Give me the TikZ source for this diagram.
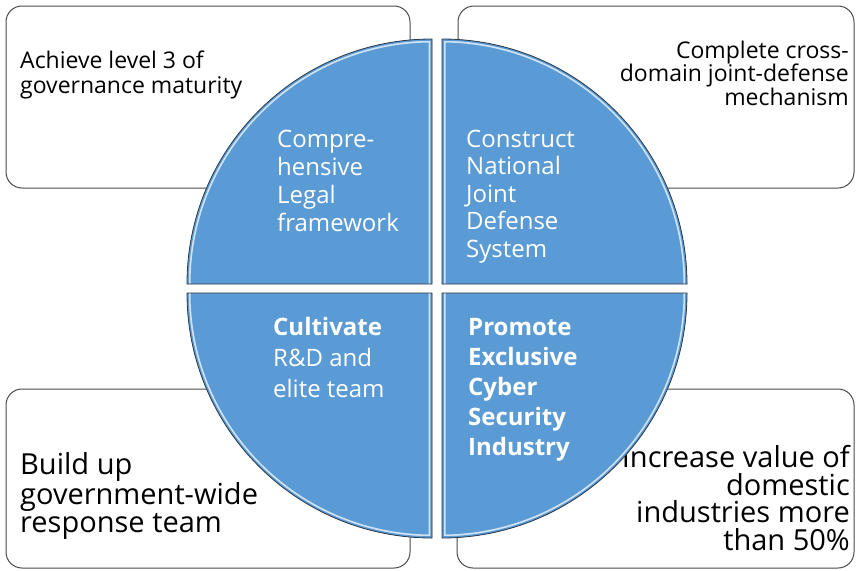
\documentclass[tikz,border=0pt]{standalone}
\usepackage{fontspec}
\setmainfont{Open Sans}

\definecolor{pieblue}{HTML}{5B9BD5}
\definecolor{pieshine}{HTML}{CFE3F5}
\definecolor{pieedge}{HTML}{2E3A48}
\definecolor{boxline}{HTML}{4A4A4A}

\tikzset{
    goalbox/.style={draw=boxline, line width=1pt, rounded corners=16pt, fill=white},
    goaltext/.style={inner sep=0pt, text=black, font=\fontsize{23}{24.5}\selectfont},
    bigtext/.style={inner sep=0pt, text=black, font=\fontsize{29}{27.5}\selectfont},
    pietext/.style={inner sep=0pt, align=left, anchor=base west, text=white, font=\fontsize{24}{28}\selectfont},
}

\begin{document}
\begin{tikzpicture}[x=1pt, y=1pt]
        \useasboundingbox (0, 0) rectangle (856, -570);

        % goal boxes in the corners
        \draw[goalbox] (6, -6) rectangle (410, -188);
        \draw[goalbox] (458, -6) rectangle (854, -188);
        \draw[goalbox] (6, -389) rectangle (410, -568);
        \draw[goalbox] (457, -389) rectangle (854, -568);

        % anchors sit on the baseline of the last line
        \node[goaltext, align=left, anchor=base west] (govern) at (20, -93)
            {Achieve level 3 of\\governance maturity};
        \node[goaltext, align=right, anchor=base east, font=\fontsize{23}{23.5}\selectfont] (crossdomain) at (849, -105)
            {Complete cross-\\domain joint-defense\\mechanism};
        \node[bigtext, align=left, anchor=base west] (response) at (20, -532)
            {Build up\\government-wide\\response team};
        \node[bigtext, align=right, anchor=base east] (industry) at (850, -550)
            {Increase value of\\domestic\\industries more\\than 50\%};

        % the four quarters of the circle
        \foreach \cx/\cy/\v/\h in {432/-284/90/180, 442/-284/90/0, 442/-293/-90/0, 432/-293/-90/-180} {
            \fill[pieblue] (\cx, \cy) -- ++(\v:245) arc (\v:\h:245) -- cycle;
            \begin{scope}
                \clip (\cx, \cy) -- ++(\v:245) arc (\v:\h:245) -- cycle;
                \draw[pieshine, line width=7pt] (\cx, \cy) -- ++(\v:245) arc (\v:\h:245);
                \draw[pieblue, line width=3.5pt] (\cx, \cy) -- ++(\v:245) arc (\v:\h:245);
            \end{scope}
            \draw[pieedge, line width=0.8pt] (\cx, \cy) -- ++(\v:245) arc (\v:\h:245) -- cycle;
        }

        \node[pietext] (legal) at (277, -231) {Compre-\\hensive\\Legal\\framework};
        \node[pietext, font=\fontsize{24}{27.5}\selectfont] (defense) at (466, -257)
            {Construct\\National\\Joint\\Defense\\System};
        \node[pietext, font=\fontsize{24}{31}\selectfont] (elite) at (273, -397)
            {\textbf{Cultivate}\\R\&D and\\elite team};
        \node[pietext, font=\fontsize{24}{30}\selectfont\bfseries] (cyber) at (468, -455)
            {Promote\\Exclusive\\Cyber\\Security\\Industry};
\end{tikzpicture}
\end{document}
